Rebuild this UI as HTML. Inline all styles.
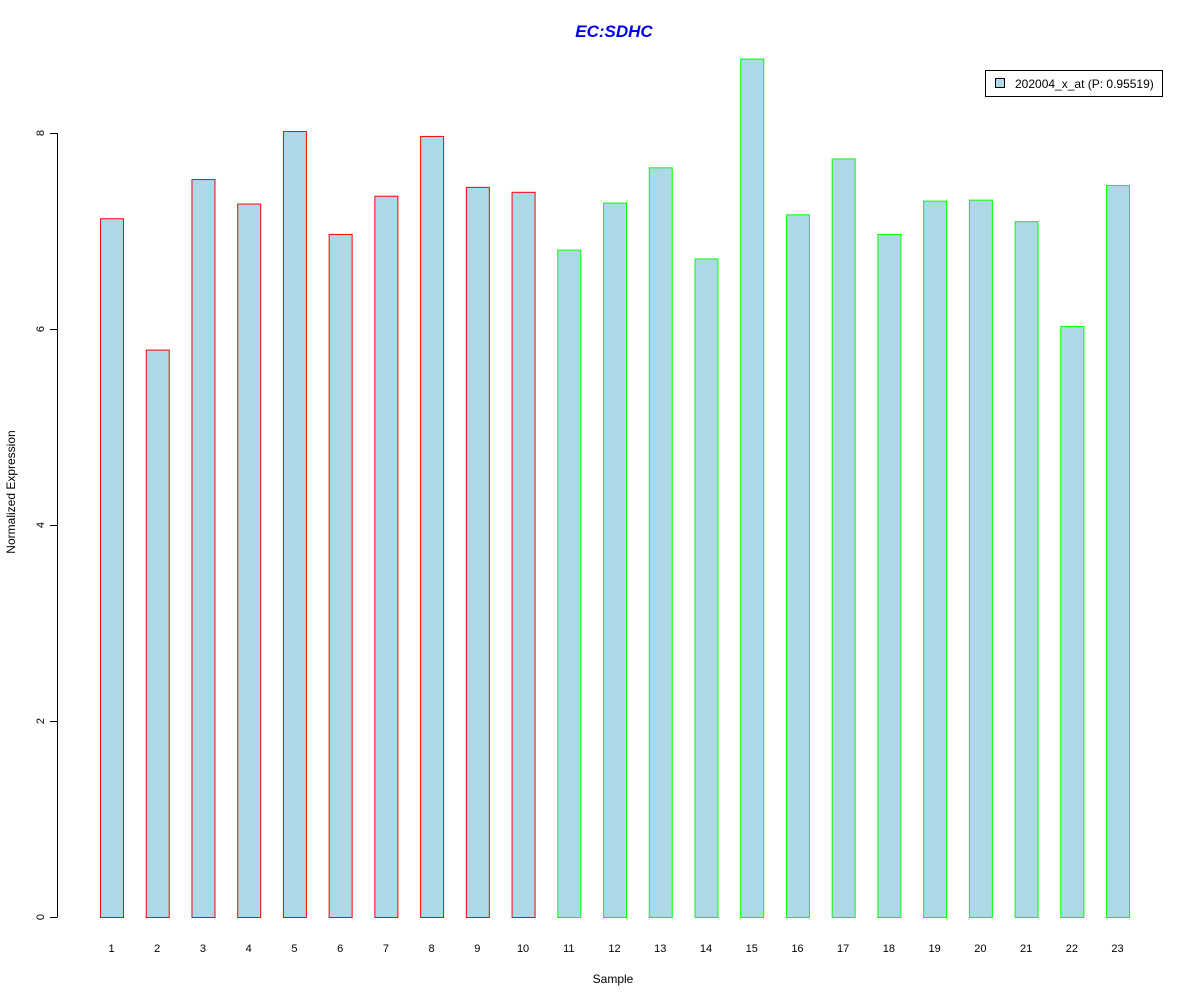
<!DOCTYPE html>
<html><head><meta charset="utf-8"><style>
body{margin:0;background:#fff;}
svg text{font-family:"Liberation Sans",Arial,sans-serif;}
</style></head><body>
<svg id="chart" width="1200" height="1000" xmlns="http://www.w3.org/2000/svg">
<rect width="1200" height="1000" fill="#fff"/>
<text x="614" y="37" text-anchor="middle" font-size="17" font-weight="bold" font-style="italic" fill="#0000ee">EC:SDHC</text>
<g id="yaxis"></g>
<g id="bars"></g>
<g id="xlabels"></g>
<text x="613" y="983" text-anchor="middle" font-size="12">Sample</text>
<text transform="translate(15,492) rotate(-90)" text-anchor="middle" font-size="12">Normalized Expression</text>
<g>
<rect x="985.5" y="70.5" width="177" height="26" fill="#fff" stroke="#000"/>
<rect x="995.5" y="78.5" width="9" height="9" fill="#add8e6" stroke="#000"/>
<text x="1015" y="88" font-size="12">202004_x_at (P: 0.95519)</text>
</g>
</svg>
<script>
const categories=["1","2","3","4","5","6","7","8","9","10","11","12","13","14","15","16","17","18","19","20","21","22","23"];
const values=[7.13,5.79,7.53,7.28,8.02,6.97,7.36,7.97,7.45,7.40,6.81,7.29,7.65,6.72,8.76,7.17,7.74,6.97,7.31,7.32,7.10,6.03,7.47];
const groups=["r","r","r","r","r","r","r","r","r","r","g","g","g","g","g","g","g","g","g","g","g","g","g"];
const yTicks=[0,2,4,6,8];
const NS="http://www.w3.org/2000/svg";
const y0=917,ppu=98;
function yS(v){return y0-v*ppu;}
function xS(i){return 100+i*45.73;}
const bw=23;
const ya=document.getElementById('yaxis');
function mk(t,a,p){const e=document.createElementNS(NS,t);for(const k in a)e.setAttribute(k,a[k]);p.appendChild(e);return e;}
const ax=mk('line',{x1:57.5,x2:57.5,y1:yS(8),y2:yS(0),stroke:'#000'},ya);


yTicks.forEach(v=>{
 const l=mk('line',{x1:50,x2:57.5,y1:yS(v)+0.5,y2:yS(v)+0.5,stroke:'#000'},ya);
 
 
 const t=mk('text',{transform:`translate(44,${yS(v)}) rotate(-90)`,'text-anchor':'middle','font-size':'11'},ya);
 t.textContent=v;
 
 
});
const bg=document.getElementById('bars'),xl=document.getElementById('xlabels');
values.forEach((v,i)=>{
 const r=mk('rect',{x:xS(i)+0.5,y:yS(v)+0.5,width:bw,height:v*ppu,fill:'#add8e6',stroke:groups[i]==='r'?'#ff0000':'#00ff00'},bg);
 
 
 const t=mk('text',{x:xS(i)+bw/2,y:952,'text-anchor':'middle','font-size':'11'},xl);
 t.textContent=categories[i];
 
 
});
</script>
</body></html>
